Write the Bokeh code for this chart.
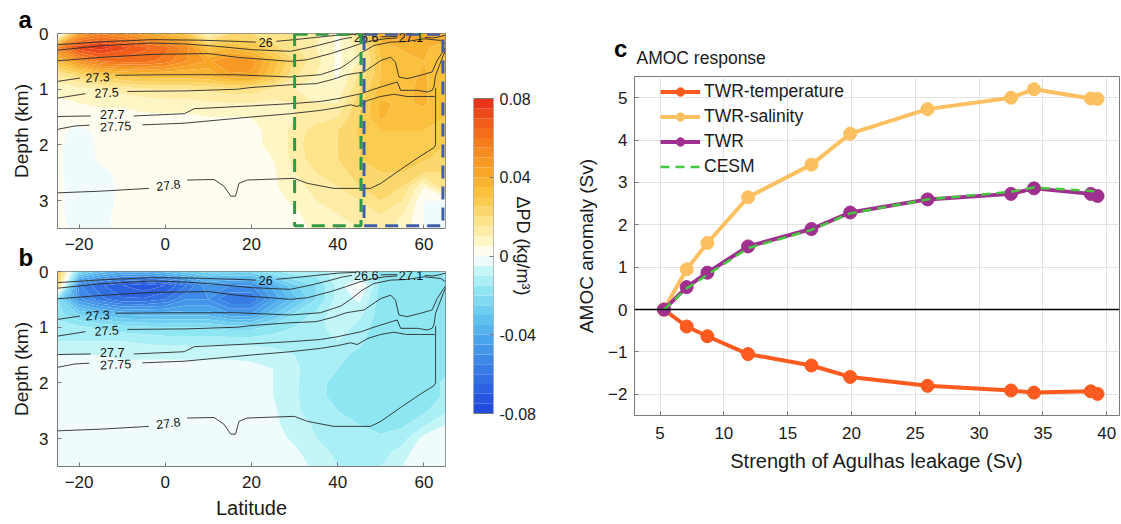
import numpy as np
from bokeh.plotting import figure
from bokeh.models import (Range1d, Legend, LegendItem, LinearAxis, FixedTicker, Span, Title, Div)
from bokeh.layouts import row, column
from bokeh.embed import file_html
from bokeh.resources import INLINE
from bokeh.core.properties import value

FONT = "Liberation Sans"
nan = float("nan")

# ---------------- panel c data ----------------
leakage_sv = [5.31, 7.09, 8.71, 11.9, 16.86, 19.9, 25.96, 32.5, 34.3, 38.75, 39.28]
twr_temperature = [0.0, -0.40, -0.63, -1.05, -1.32, -1.59, -1.80, -1.91, -1.96, -1.93, -1.99]
twr_salinity = [0.0, 0.95, 1.57, 2.65, 3.42, 4.15, 4.73, 5.00, 5.20, 4.98, 4.97]
twr_total = [0.0, 0.53, 0.87, 1.49, 1.90, 2.29, 2.60, 2.73, 2.86, 2.73, 2.68]
cesm = [0.0, 0.50, 0.82, 1.45, 1.88, 2.27, 2.60, 2.78, 2.88, 2.80, 2.78]
c_xticks = [5, 10, 15, 20, 25, 30, 35, 40]
c_yticks = [-2, -1, 0, 1, 2, 3, 4, 5]

# ---------------- panels a/b data: ΔPD (kg/m3) on lat x depth nodes ----------------
lat_nodes = [-25, -20, -15, -10, -5, 0, 5, 10, 15, 20, 25, 30, 35, 40, 45, 50, 55, 60, 65]
depth_nodes = [0.0, 0.25, 0.5, 0.75, 1.0, 1.25, 1.5, 1.75, 2.0, 2.25, 2.5, 2.75, 3.0, 3.25, 3.5]

dpd_a = [
    [-0.010, 0.045, 0.054, 0.050, 0.042, 0.036, 0.028, 0.006, 0.020, 0.020, 0.015, 0.015, 0.012, 0.004, 0.020, 0.040, 0.045, 0.045, 0.040],
    [0.054, 0.074, 0.078, 0.072, 0.066, 0.062, 0.052, 0.030, 0.034, 0.030, 0.022, 0.016, 0.010, 0.004, 0.012, 0.032, 0.036, 0.036, 0.032],
    [0.034, 0.050, 0.060, 0.062, 0.062, 0.058, 0.050, 0.044, 0.050, 0.048, 0.034, 0.020, 0.012, 0.004, 0.010, 0.030, 0.032, 0.035, 0.030],
    [0.014, 0.022, 0.028, 0.032, 0.034, 0.034, 0.034, 0.036, 0.044, 0.044, 0.030, 0.016, 0.010, 0.004, 0.016, 0.030, 0.032, 0.036, 0.030],
    [0.006, 0.008, 0.010, 0.012, 0.014, 0.015, 0.015, 0.016, 0.018, 0.018, 0.014, 0.010, 0.008, 0.006, 0.020, 0.032, 0.034, 0.036, 0.030],
    [0.004, 0.005, 0.006, 0.006, 0.007, 0.008, 0.008, 0.009, 0.010, 0.010, 0.009, 0.010, 0.010, 0.010, 0.024, 0.036, 0.034, 0.036, 0.030],
    [0.003, 0.003, 0.003, 0.003, 0.004, 0.004, 0.004, 0.005, 0.005, 0.005, 0.006, 0.010, 0.012, 0.015, 0.025, 0.036, 0.032, 0.032, 0.030],
    [0.002, -0.002, 0.002, 0.003, 0.003, 0.003, 0.003, 0.003, 0.003, 0.004, 0.006, 0.012, 0.018, 0.020, 0.026, 0.030, 0.030, 0.030, 0.026],
    [0.001, -0.003, 0.001, 0.002, 0.002, 0.002, 0.002, 0.002, 0.003, 0.004, 0.006, 0.012, 0.020, 0.020, 0.025, 0.028, 0.030, 0.030, 0.025],
    [0.001, -0.003, 0.001, 0.002, 0.002, 0.002, 0.002, 0.002, 0.003, 0.003, 0.005, 0.012, 0.018, 0.020, 0.025, 0.028, 0.028, 0.026, 0.022],
    [0.001, -0.003, -0.002, 0.002, 0.002, 0.002, 0.002, 0.002, 0.002, 0.003, 0.004, 0.010, 0.015, 0.018, 0.022, 0.025, 0.025, 0.020, 0.020],
    [0.001, -0.002, -0.002, 0.001, 0.002, 0.002, 0.002, 0.002, 0.002, 0.002, 0.004, 0.008, 0.012, 0.015, 0.020, 0.022, 0.020, 0.005, 0.020],
    [0.001, -0.002, -0.002, 0.001, 0.002, 0.002, 0.002, 0.002, 0.002, 0.002, 0.003, 0.006, 0.010, 0.012, 0.015, 0.020, 0.015, 0.000, 0.000],
    [0.001, -0.002, -0.001, 0.001, 0.002, 0.002, 0.002, 0.002, 0.002, 0.002, 0.003, 0.004, 0.008, 0.010, 0.012, 0.015, 0.010, 0.000, 0.000],
    [0.001, -0.001, -0.001, 0.001, 0.002, 0.002, 0.002, 0.002, 0.002, 0.002, 0.002, 0.003, 0.006, 0.008, 0.010, 0.012, 0.008, 0.000, 0.000],
]

dpd_b = [
    [0.030, -0.022, -0.032, -0.038, -0.038, -0.033, -0.027, -0.022, -0.022, -0.022, -0.016, -0.012, -0.012, -0.008, -0.012, -0.016, -0.018, -0.018, -0.014],
    [0.022, -0.054, -0.064, -0.070, -0.074, -0.070, -0.060, -0.046, -0.050, -0.050, -0.038, -0.026, -0.020, -0.008, 0.002, -0.017, -0.018, -0.018, -0.016],
    [-0.020, -0.048, -0.058, -0.064, -0.064, -0.060, -0.050, -0.050, -0.060, -0.060, -0.044, -0.032, -0.020, -0.008, -0.004, -0.018, -0.019, -0.019, -0.018],
    [-0.018, -0.026, -0.032, -0.037, -0.038, -0.038, -0.038, -0.038, -0.045, -0.045, -0.032, -0.020, -0.014, -0.006, -0.008, -0.018, -0.019, -0.019, -0.018],
    [-0.012, -0.014, -0.016, -0.018, -0.019, -0.020, -0.020, -0.020, -0.022, -0.022, -0.018, -0.015, -0.012, -0.007, -0.012, -0.018, -0.019, -0.019, -0.018],
    [-0.010, -0.010, -0.010, -0.010, -0.011, -0.012, -0.012, -0.012, -0.012, -0.012, -0.012, -0.010, -0.010, -0.010, -0.014, -0.018, -0.018, -0.019, -0.018],
    [-0.005, -0.005, -0.005, -0.006, -0.006, -0.006, -0.006, -0.006, -0.006, -0.006, -0.008, -0.010, -0.012, -0.014, -0.016, -0.018, -0.018, -0.019, -0.018],
    [-0.003, -0.003, -0.003, -0.003, -0.003, -0.003, -0.003, -0.003, -0.003, -0.004, -0.005, -0.009, -0.013, -0.015, -0.018, -0.019, -0.019, -0.019, -0.016],
    [-0.003, -0.003, -0.003, -0.003, -0.003, -0.003, -0.003, -0.003, -0.003, -0.003, -0.005, -0.009, -0.014, -0.016, -0.018, -0.019, -0.019, -0.018, -0.014],
    [-0.003, -0.003, -0.003, -0.003, -0.003, -0.003, -0.003, -0.003, -0.003, -0.003, -0.005, -0.009, -0.014, -0.016, -0.018, -0.019, -0.019, -0.018, -0.014],
    [-0.003, -0.003, -0.003, -0.003, -0.003, -0.003, -0.003, -0.003, -0.003, -0.003, -0.004, -0.009, -0.013, -0.015, -0.018, -0.019, -0.019, -0.016, -0.011],
    [-0.003, -0.003, -0.003, -0.003, -0.003, -0.003, -0.003, -0.003, -0.003, -0.003, -0.004, -0.007, -0.011, -0.013, -0.015, -0.017, -0.016, -0.011, -0.005],
    [-0.003, -0.003, -0.003, -0.003, -0.003, -0.003, -0.003, -0.003, -0.003, -0.003, -0.003, -0.006, -0.010, -0.012, -0.013, -0.014, -0.012, -0.003, 0.000],
    [-0.003, -0.003, -0.003, -0.003, -0.003, -0.003, -0.003, -0.003, -0.003, -0.003, -0.003, -0.004, -0.008, -0.011, -0.012, -0.012, -0.008, 0.000, 0.000],
    [-0.003, -0.003, -0.003, -0.003, -0.003, -0.003, -0.003, -0.003, -0.003, -0.003, -0.003, -0.003, -0.006, -0.010, -0.010, -0.010, -0.005, 0.000, 0.000],
]

# density contours (lat, depth km); NaN = gap where the label sits
iso_26_lat = [-25, -15, -3, 8, 16, 21, nan, 25.8, 30, 35, 40, 44]
iso_26_dep = [0.20, 0.15, 0.11, 0.12, 0.14, 0.155, nan, 0.14, 0.11, 0.07, 0.03, 0.015]
iso_266_lat = [-25, -15, -3, 5, 12, 20, 29, 34, 38.4, 41, 43.3, nan, 50, 53.8]
iso_266_dep = [0.30, 0.22, 0.17, 0.19, 0.23, 0.29, 0.32, 0.24, 0.155, 0.10, 0.07, nan, 0.06, 0.055]
iso_271_lat = [-25, -15, -3, 10, 17, 24, 29, 33, 38.4, 42, 45, 48, 51, 53.8, nan, 60.2, 62, 63.5, 65]
iso_271_dep = [0.49, 0.43, 0.375, 0.36, 0.43, 0.47, 0.50, 0.47, 0.36, 0.27, 0.19, 0.13, 0.095, 0.08, nan, 0.07, 0.08, 0.06, 0.03]
iso_273_lat = [-25, -19.8, nan, -11.6, 0, 16, 29, 36, 40.7, 43, 45.7, 48.4, 52.3, 56.1, 60, 63.9, 65]
iso_273_dep = [0.86, 0.80, nan, 0.75, 0.74, 0.74, 0.78, 0.74, 0.62, 0.50, 0.335, 0.215, 0.155, 0.143, 0.095, 0.125, 0.185]
iso_275_lat = [-25, -18.5, nan, -8.8, 5, 16.7, 19.9, 29, 35, 39, 42, 46.1, 50, 52.3, 53.4, 54.2, 56.1, 59.2, 61.9, 63.1, 64.6, 65]
iso_275_dep = [1.16, 1.08, nan, 1.04, 1.03, 1.0, 0.97, 0.92, 0.90, 0.82, 0.74, 0.69, 0.485, 0.425, 0.515, 0.78, 0.81, 0.75, 0.69, 0.48, 0.305, 0.26]
iso_277_lat = [-25, -17.3, nan, -7.3, 4.4, 6.7, 19.8, 29, 36, 40, 43, 45.5, 47.6, 50, 53.8, 54.6, 58.5, 60.8, 61.9, 62.3, 62.7, 64.6, 65]
iso_277_dep = [1.49, 1.48, nan, 1.48, 1.44, 1.35, 1.30, 1.26, 1.22, 1.17, 1.12, 1.08, 1.02, 0.96, 0.87, 1.02, 1.02, 1.05, 1.02, 0.96, 0.75, 0.37, 0.30]
iso_2775_lat = [-25, -21, -17.6, nan, -5.3, 4.4, 19.8, 29, 36, 40, 43, 44.5, 45.5, 47, 50, 53, 56, 59, 62.5]
iso_2775_dep = [1.72, 1.66, 1.645, nan, 1.64, 1.61, 1.50, 1.44, 1.38, 1.33, 1.28, 1.31, 1.27, 1.20, 1.13, 1.09, 1.13, 1.13, 1.13]
iso_278_lat = [-25, -15, -3.8, nan, 5.1, 11.3, 13.6, 15.2, 16.3, 17.1, 19, 29.9, 33, 39.1, 47.6, 50, 54.6, 59.2, 62.3, 62.7, 62.7]
iso_278_dep = [2.86, 2.83, 2.78, nan, 2.63, 2.62, 2.74, 2.92, 2.92, 2.69, 2.63, 2.60, 2.69, 2.78, 2.78, 2.69, 2.44, 2.20, 2.05, 2.0, 0.98]
iso_label_text = ["26", "26.6", "27.1", "27.3", "27.5", "27.7", "27.75", "27.8"]
iso_label_lat = [23.3, 46.6, 57.0, -15.7, -13.6, -12.3, -11.5, 0.7]
iso_label_dep = [0.155, 0.07, 0.065, 0.785, 1.06, 1.455, 1.665, 2.72]
iso_label_ang = [0.0, 0.0, 0.0, 0.06, 0.05, 0.0, 0.04, 0.12]

# colour scale
cbar_ticks = [-0.08, -0.04, 0, 0.04, 0.08]
anchor_v = [-0.08, -0.0675, -0.055, -0.0425, -0.03, -0.0175, -0.0075, -0.0025,
            0.0025, 0.0075, 0.0175, 0.03, 0.0425, 0.055, 0.0675, 0.08]
anchor_c = ["#1f45da", "#2c62e0", "#3a82e6", "#4aa4eb", "#66c8f0", "#8fe6f3", "#c4f6f8", "#f0fcfc",
            "#fffdf0", "#fef6c4", "#fde38a", "#fbc644", "#f8a628", "#f5861f", "#f05e1a", "#e5291a"]


def hex2rgb(h):
    return [int(h[i:i + 2], 16) for i in (1, 3, 5)]


nb = 32
edges = np.linspace(-0.08, 0.08, nb + 1)
centers = 0.5 * (edges[:-1] + edges[1:])
rgb = np.array([hex2rgb(c) for c in anchor_c], dtype=float)
palette = []
for cval in centers:
    r, g, b = (np.interp(cval, anchor_v, rgb[:, k]) for k in range(3))
    palette.append("#%02x%02x%02x" % (int(round(r)), int(round(g)), int(round(b))))

GRAY = "#7a7a7a"
TXT = "#1a1a1a"


def style_axes(p, tick_size="17px"):
    for ax in p.axis:
        ax.axis_line_color = GRAY
        ax.major_tick_line_color = GRAY
        ax.major_tick_in = 4
        ax.major_tick_out = 0
        ax.minor_tick_line_color = None
        ax.major_label_text_font = FONT
        ax.major_label_text_font_size = tick_size
        ax.major_label_text_color = TXT
        ax.axis_label_text_font = FONT
        ax.axis_label_text_font_style = "normal"
        ax.axis_label_text_color = TXT
    p.outline_line_color = GRAY
    p.outline_line_alpha = 1.0


def letter_title(text, offset, size="24px", standoff=2):
    return Title(text=text, align="left", offset=offset, standoff=standoff,
                 text_font=FONT, text_font_size=size, text_font_style="bold", text_color="black")


def section_panel(field, letter, show_xlabel, height, top, bottom):
    p = figure(width=460, height=height, output_backend="svg", toolbar_location=None,
               x_range=Range1d(-25, 65), y_range=Range1d(3.5, 0),
               min_border_left=57, min_border_right=15,
               min_border_top=top, min_border_bottom=bottom)
    p.grid.visible = False
    p.contour(x=lat_nodes, y=depth_nodes, z=np.array(field, dtype=float),
              levels=list(edges), fill_color=palette)
    for la, de in [(iso_26_lat, iso_26_dep), (iso_266_lat, iso_266_dep), (iso_271_lat, iso_271_dep),
                   (iso_273_lat, iso_273_dep), (iso_275_lat, iso_275_dep), (iso_277_lat, iso_277_dep),
                   (iso_2775_lat, iso_2775_dep), (iso_278_lat, iso_278_dep)]:
        p.line(la, de, line_color="#2a2a2a", line_width=0.9)
    p.text(x=iso_label_lat, y=iso_label_dep, text=iso_label_text, angle=iso_label_ang,
           text_font=value(FONT), text_font_size="12.5px", text_align="center",
           text_baseline="middle", text_color="#111111")
    p.xaxis.ticker = FixedTicker(ticks=[-20, 0, 20, 40, 60])
    p.yaxis.ticker = FixedTicker(ticks=[0, 1, 2, 3])
    p.yaxis.axis_label = "Depth (km)"
    p.yaxis.axis_label_text_font_size = "19px"
    p.yaxis.major_label_standoff = 9
    p.yaxis.axis_label_standoff = 4
    p.xaxis.major_label_standoff = 9
    if show_xlabel:
        p.xaxis.axis_label = "Latitude"
        p.xaxis.axis_label_text_font_size = "20px"
        p.xaxis.axis_label_standoff = 6
    style_axes(p)
    p.add_layout(letter_title(letter, -39), "above")
    return p


pa = section_panel(dpd_a, "a", False, 258, 33, 30)
# dashed regions in panel a
pa.quad(left=30, right=45.4, top=0.015, bottom=3.45, fill_color=None,
        line_color="#2f9a46", line_width=3, line_dash="13 8")
pa.quad(left=46.1, right=64.4, top=0.015, bottom=3.45, fill_color=None,
        line_color="#3f5faa", line_width=3, line_dash="13 8")

pb = section_panel(dpd_b, "b", True, 291, 38, 58)
pb.margin = (-25, 0, 0, 0)
pb.border_fill_color = None
pb.border_fill_alpha = 0

# ---------------- colour bar ----------------
TOP_C, BOT_C = 76, 109
cb_top = 0.08 + 22 / 1968.75
cb_bot = -0.08 - 2 / 1968.75
pcb = figure(width=100, height=524, output_backend="svg", toolbar_location=None,
             x_range=Range1d(0, 1), y_range=Range1d(cb_bot, cb_top),
             x_axis_location=None, y_axis_location=None,
             min_border_left=13, min_border_right=67, min_border_top=TOP_C, min_border_bottom=BOT_C)
pcb.grid.visible = False
pcb.quad(left=0, right=1, bottom=edges[:-1], top=edges[1:], fill_color=palette, line_color=None)
pcb.quad(left=0, right=1, bottom=-0.08, top=0.08, fill_color=None, line_color=GRAY, line_width=1)
cax = LinearAxis(ticker=FixedTicker(ticks=cbar_ticks),
                 major_label_overrides={-0.08: "-0.08", -0.04: "-0.04", 0: "0", 0.04: "0.04", 0.08: "0.08"})
pcb.add_layout(cax, "right")
style_axes(pcb, "16px")
pcb.outline_line_color = None
cax.major_label_standoff = 6
cax.axis_line_color = None
cax.axis_label = "ΔPD (kg/m³)"
cax.axis_label_text_font_size = "18px"
cax.axis_label_standoff = -26

# ---------------- panel c ----------------
pc = figure(width=561, height=524, output_backend="svg", toolbar_location=None,
            x_range=Range1d(3, 41), y_range=Range1d(-2.5, 5.5),
            min_border_left=74, min_border_right=2, min_border_top=TOP_C, min_border_bottom=BOT_C)
pc.border_fill_color = None
pc.border_fill_alpha = 0
pc.xgrid.grid_line_color = "#e3e3e3"
pc.ygrid.grid_line_color = "#e3e3e3"
pc.xaxis.ticker = FixedTicker(ticks=c_xticks)
pc.yaxis.ticker = FixedTicker(ticks=c_yticks)
pc.xaxis.axis_label = "Strength of Agulhas leakage (Sv)"
pc.yaxis.axis_label = "AMOC anomaly (Sv)"
style_axes(pc)
pc.xaxis.axis_label_text_font_size = "20px"
pc.yaxis.axis_label_text_font_size = "19px"
pc.xaxis.major_label_standoff = 11
pc.yaxis.major_label_standoff = 7
pc.xaxis.axis_label_standoff = 8
pc.yaxis.axis_label_standoff = 8
pc.add_layout(Span(location=0, dimension="width", line_color="black", line_width=1.5))

C_T, C_S, C_W, C_C = "#fc5a1e", "#fdc060", "#a0308f", "#44c83c"
lt = pc.line(leakage_sv, twr_temperature, line_color=C_T, line_width=4)
st = pc.scatter(leakage_sv, twr_temperature, size=13, fill_color=C_T, line_color=C_T)
ls = pc.line(leakage_sv, twr_salinity, line_color=C_S, line_width=4)
ss = pc.scatter(leakage_sv, twr_salinity, size=13, fill_color=C_S, line_color=C_S)
lw = pc.line(leakage_sv, twr_total, line_color=C_W, line_width=4)
sw = pc.scatter(leakage_sv, twr_total, size=13, fill_color=C_W, line_color=C_W)
lc = pc.line(leakage_sv, cesm, line_color=C_C, line_width=2.5, line_dash="9 6")

legend = Legend(items=[LegendItem(label="TWR-temperature", renderers=[lt, st]),
                       LegendItem(label="TWR-salinity", renderers=[ls, ss]),
                       LegendItem(label="TWR", renderers=[lw, sw]),
                       LegendItem(label="CESM", renderers=[lc])],
                location=(26, 238), padding=0, margin=0, spacing=4,
                label_height=21, glyph_height=21, glyph_width=40, label_standoff=4,
                label_text_font=FONT, label_text_font_size="17.5px", label_text_color=TXT,
                background_fill_alpha=0, border_line_color=None)
pc.add_layout(legend)
pc.add_layout(Title(text="AMOC response", align="left", offset=2, standoff=17,
                    text_font=FONT, text_font_size="17.5px", text_font_style="normal",
                    text_color=TXT), "above")

# panel letter "c" (sits in the border area left of the title)
div_c = Div(text="c", width=30, height=30, margin=(37, 0, 0, 54),
            styles={"font-family": FONT, "font-size": "24px", "font-weight": "bold",
                    "line-height": "24px", "color": "black"})
pc.margin = (-67, 0, 0, 0)

layout = row(column(pa, pb), column(pcb), column(div_c, pc))
open("out.html", "w").write(file_html(layout, INLINE))
